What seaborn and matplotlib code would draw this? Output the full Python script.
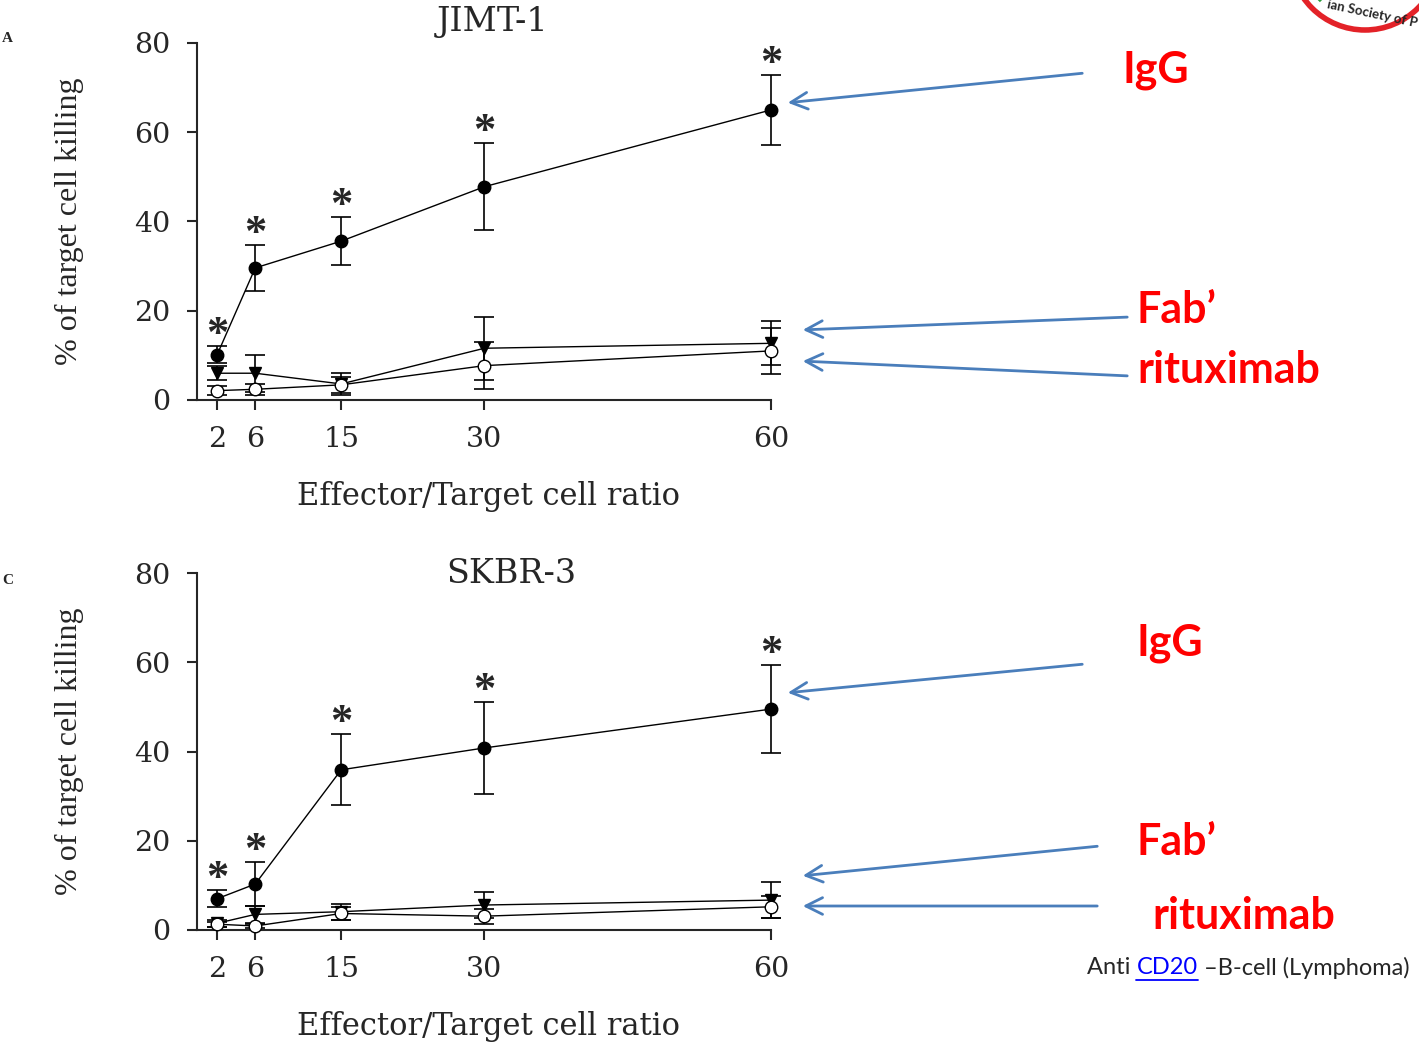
import matplotlib
matplotlib.use("Agg")
import matplotlib.pyplot as plt
import seaborn as sns
import pandas as pd
from matplotlib.patches import Arc, FancyArrowPatch

# effector / target ratios
ratios = [2, 6, 15, 30, 60]

# JIMT-1 panel (% of target cell killing, mean and error)
jimt_igg = [10.1, 29.6, 35.6, 47.8, 65.0]
jimt_igg_err = [1.9, 5.2, 5.3, 9.7, 7.9]
jimt_fab = [6.0, 6.0, 3.6, 11.6, 12.7]
jimt_fab_err = [1.6, 4.1, 2.5, 7.1, 4.9]
jimt_rtx = [2.1, 2.4, 3.4, 7.7, 11.0]
jimt_rtx_err = [1.0, 1.2, 1.8, 5.2, 5.2]

# SKBR-3 panel
skbr_igg = [7.0, 10.3, 35.9, 40.8, 49.5]
skbr_igg_err = [1.9, 5.0, 8.0, 10.3, 9.8]
skbr_fab = [1.5, 3.5, 4.1, 5.6, 6.7]
skbr_fab_err = [0.8, 1.9, 1.8, 3.0, 4.1]
skbr_rtx = [1.3, 0.9, 3.7, 3.1, 5.2]
skbr_rtx_err = [0.6, 0.5, 1.5, 1.7, 2.4]

yticks = [0, 20, 40, 60, 80]

W, H = 1419, 1042
SERIF = "Liberation Serif"
WIDE = "DejaVu Serif"
SANS = ["Lato", "DejaVu Sans"]
ARROW_BLUE = "#4a7ebb"

sns.set_style("ticks")
fig = plt.figure(figsize=(W / 100, H / 100), dpi=100)


def fx(px):
    return px / W


def fy(py):
    return 1 - py / H


def draw_panel(ax, title, title_xy, igg, igg_err, fab, fab_err, rtx, rtx_err):
    series = [
        (igg, igg_err, "o", "black", 9),
        (fab, fab_err, "v", "black", 8),
        (rtx, rtx_err, "o", "white", 9),
    ]
    for vals, errs, mk, face, ms in series:
        df = pd.DataFrame({"ratio": ratios, "killing": vals})
        sns.lineplot(data=df, x="ratio", y="killing", ax=ax, color="black",
                     lw=1.0, marker=mk, markersize=ms, markerfacecolor=face,
                     markeredgecolor="black", markeredgewidth=1.0, zorder=3,
                     clip_on=False)
        ax.errorbar(ratios, vals, yerr=errs, fmt="none", ecolor="black",
                    elinewidth=1.2, capsize=7, capthick=1.2, zorder=2,
                    clip_on=False)
    for x, v, e in zip(ratios, igg, igg_err):
        ax.annotate("*", (x, v + e), xytext=(0, 8), textcoords="offset points",
                    ha="center", va="center", fontsize=32, family=SERIF,
                    fontweight="bold", annotation_clip=False)

    ax.set_xlim(-0.1, 61)
    ax.set_ylim(0, 80)
    ax.set_xticks(ratios)
    ax.set_yticks(yticks)
    ax.spines["bottom"].set_bounds(-0.1, 60)
    sns.despine(ax=ax)
    for s in ["left", "bottom"]:
        ax.spines[s].set_linewidth(1.5)
    ax.tick_params(length=7, width=1.5, labelsize=20.5, pad=12)
    for lab in ax.get_xticklabels() + ax.get_yticklabels():
        lab.set_family(WIDE)
    ax.set_xlabel("Effector/Target cell ratio", family=WIDE, fontsize=22,
                  labelpad=20)
    ax.set_ylabel("% of target cell killing", family=SERIF, fontsize=23)
    ax.yaxis.set_label_coords(-0.194, 0.5)
    ax.text(title_xy[0], title_xy[1], title, transform=ax.transAxes,
            ha="center", va="center", family=WIDE, fontsize=24)


ax_top = fig.add_axes([fx(197), fy(400), 583.5 / W, 357 / H])
ax_bot = fig.add_axes([fx(197), fy(930), 583.5 / W, 357 / H])

draw_panel(ax_top, "JIMT-1", (0.507, 1.059), jimt_igg, jimt_igg_err,
           jimt_fab, jimt_fab_err, jimt_rtx, jimt_rtx_err)
draw_panel(ax_bot, "SKBR-3", (0.538, 0.997), skbr_igg, skbr_igg_err,
           skbr_fab, skbr_fab_err, skbr_rtx, skbr_rtx_err)

# red labels with blue arrows
labels = [
    ("IgG", 1122, 70, (1085, 73), (785, 103)),
    ("Fab\u2019", 1137, 310, (1130, 317), (800, 330)),
    ("rituximab", 1137, 370, (1130, 376), (800, 361)),
    ("IgG", 1137, 643, (1085, 664), (785, 693)),
    ("Fab\u2019", 1137, 842, (1100, 846), (800, 876)),
    ("rituximab", 1152, 916, (1100, 906), (800, 906)),
]
for text, tx, ty, start, end in labels:
    fig.text(fx(tx), fy(ty), text, color="#ff0000", fontsize=31,
             fontweight="bold", family=SANS, ha="left", va="center")
    fig.add_artist(FancyArrowPatch(
        (fx(start[0]), fy(start[1])), (fx(end[0]), fy(end[1])),
        transform=fig.transFigure,
        arrowstyle="->,head_length=12,head_width=6",
        color=ARROW_BLUE, lw=2))

# footnote
renderer = fig.canvas.get_renderer()
fs = 17
x0 = fx(1087)
t1 = fig.text(x0, fy(968), "Anti ", fontsize=fs, family=SANS, va="center")
bb = t1.get_window_extent(renderer)
x1 = x0 + bb.width / W
t2 = fig.text(x1, fy(968), "CD20", fontsize=fs, family=SANS, va="center",
              color="#0000ff")
bb2 = t2.get_window_extent(renderer)
fig.add_artist(plt.Line2D([x1, x1 + bb2.width / W], [fy(980), fy(980)],
                          transform=fig.transFigure, color="#0000ff", lw=1.3))
fig.text(x1 + bb2.width / W, fy(968), " \u2013B-cell (Lymphoma)",
         fontsize=fs, family=SANS, va="center")

# panel letters and logo fragment at the edges
fig.text(fx(2), fy(38), "A", fontsize=11, family=SERIF, fontweight="bold",
         va="center")
fig.text(fx(2), fy(580), "C", fontsize=11, family=SERIF, fontweight="bold",
         va="center")
fig.add_artist(Arc((fx(1365), fy(-45)), 150 / W, 150 / H, theta1=180,
                   theta2=360, transform=fig.transFigure, color="#e32228",
                   lw=4))
fig.add_artist(Arc((fx(1365), fy(-45)), 125 / W, 125 / H, theta1=205,
                   theta2=235, transform=fig.transFigure, color="#2a9d3a",
                   lw=4))
fig.text(fx(1372), fy(14), "ian Society of P", fontsize=9.5, fontweight="bold",
         family=SANS, rotation=-12, ha="center", va="center")

fig.savefig("out.png", dpi=100)
